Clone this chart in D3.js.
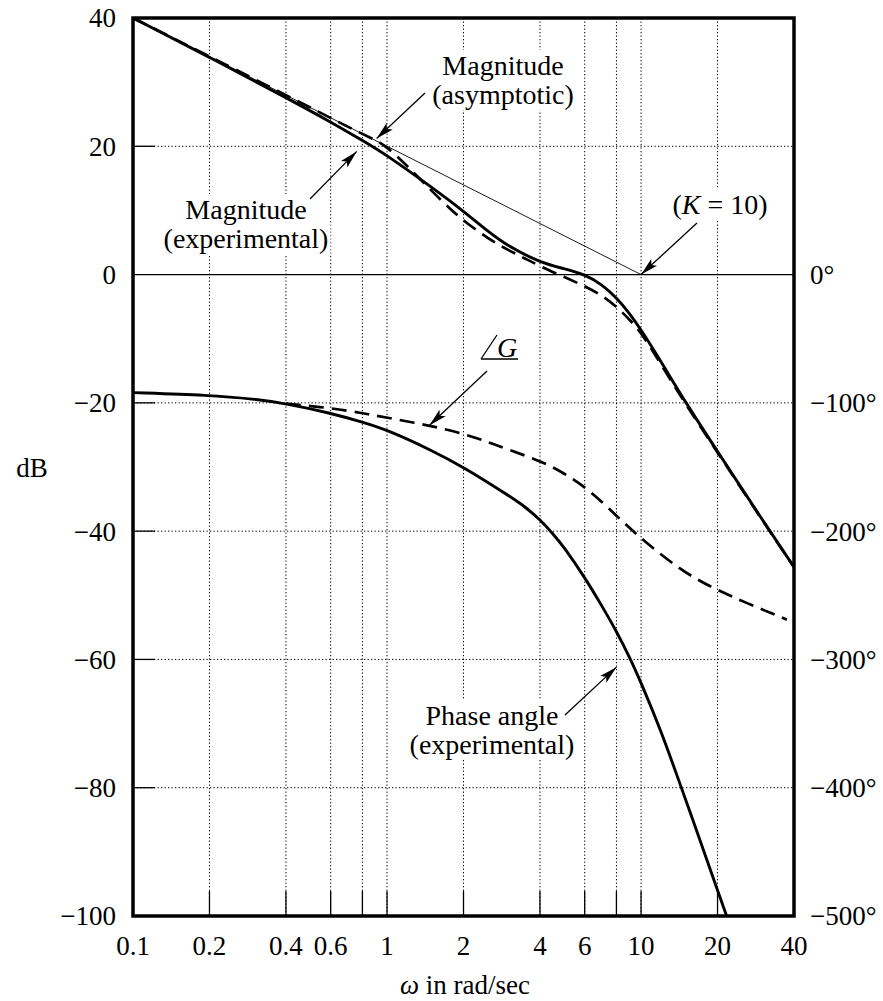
<!DOCTYPE html>
<html lang="en">
  <head>
    <meta charset="utf-8" />
    <title>Bode plot - experimental vs asymptotic</title>
    <script type="text/javascript" src="https://cdn.jsdelivr.net/npm/d3@7"></script>
    <style type="text/css">
      body { margin: 0; background: #fff; }
      text { font-family: "Liberation Serif", "Times New Roman", serif; fill: #000; }
    </style>
  </head>
  <body>
    <script type="text/javascript">
      // values (omega in rad/sec)
      var magExpW = [0.1, 0.2, 0.4, 0.6, 0.8, 1, 1.5, 2, 2.5, 3, 4, 5, 6, 7, 8, 9, 10, 12, 15, 20, 30, 40];
      var magExpDb = [40, 33.9, 27.6, 23.8, 20.9, 18.6, 13.6, 9.9, 6.7, 4.4, 1.9, 0.9, 0, -1.5, -3.6, -6.0, -8.6, -13.6, -20.0, -27.6, -38.2, -45.6];

      var magAsyW = [0.1, 0.2, 0.4, 0.6, 0.8, 0.9, 1, 1.2, 1.5, 1.8, 2, 2.5, 3, 3.5, 4, 5, 6, 7, 8, 9, 10, 12, 15, 20, 30, 40];
      var magAsyDb = [40, 34, 28, 24.4, 21.9, 21, 19.9, 17.0, 13.0, 10.0, 8.4, 5.6, 3.8, 2.5, 1.3, -0.4, -1.8, -3.2, -5.0, -7.0, -9.0, -14, -20.3, -27.7, -38.3, -45.6];

      var phaseExpW = [0.1, 0.2, 0.3, 0.4, 0.6, 0.8, 1, 1.5, 2, 3, 3.5, 4, 4.5, 5, 6, 7, 8, 9, 10, 12, 14, 17, 20, 22];
      var phaseExpDeg = [-92, -94, -97, -100.5, -108, -115, -121, -137, -150, -172, -181, -191, -202, -213, -236, -258, -278, -298, -318, -356, -393, -440, -480, -503];

      var phaseGW = [0.4, 0.6, 0.8, 1, 1.5, 2, 2.5, 3, 4, 5, 6, 7, 8, 9, 10, 13, 16, 20, 26, 37.5];
      var phaseGDeg = [-100.5, -104, -108, -111.5, -118, -124, -130.5, -136.5, -145, -155, -165.5, -177, -188, -197.5, -205.5, -224, -236, -246, -256, -269];

      // asymptote for K = 10: -20 dB/dec through 0 dB at omega = 10
      var asymW = [0.1, 10];
      var asymDb = [40, 0];

      var xTicks = [0.1, 0.2, 0.4, 0.6, 1, 2, 4, 6, 10, 20, 40];
      var xGrid = [0.2, 0.4, 0.6, 0.8, 1, 2, 4, 6, 8, 10, 20];
      var dbTicks = [40, 20, 0, -20, -40, -60, -80, -100];
      var dbGrid = [20, -20, -40, -60, -80];
      var degTicks = [0, -100, -200, -300, -400, -500];

      var w = 883;
      var h = 1001;
      var pLeft = 133, pRight = 794, pTop = 18, pBottom = 916;

      var xScale = d3.scaleLog().domain([0.1, 40]).range([pLeft, pRight]);
      var yScale = d3.scaleLinear().domain([-100, 40]).range([pBottom, pTop]);
      var phScale = d3.scaleLinear().domain([-500, 200]).range([pBottom, pTop]);

      function minus(v) {
        return v < 0 ? "\u2212" + Math.abs(v) : "" + v;
      }
      function pairs(a, b) {
        return a.map(function (d, i) {
          return [d, b[i]];
        });
      }

      var svg = d3
        .select("body")
        .append("svg")
        .attr("width", w)
        .attr("height", h);

      svg.append("rect").attr("width", w).attr("height", h).attr("fill", "#fff");

      var defs = svg.append("defs");
      defs
        .append("clipPath")
        .attr("id", "plot")
        .append("rect")
        .attr("x", pLeft)
        .attr("y", pTop)
        .attr("width", pRight - pLeft)
        .attr("height", pBottom - pTop);
      defs
        .append("marker")
        .attr("id", "arrow")
        .attr("markerUnits", "userSpaceOnUse")
        .attr("markerWidth", 19)
        .attr("markerHeight", 10)
        .attr("refX", 18)
        .attr("refY", 5)
        .attr("orient", "auto")
        .append("path")
        .attr("d", "M0,0.5 L18,5 L0,9.5 L4,5 Z")
        .attr("fill", "#000");

      // dotted grid
      var grid = svg.append("g").attr("stroke", "#000").attr("stroke-width", 1).attr("stroke-dasharray", "1.3,2.2");
      grid
        .selectAll("line.v")
        .data(xGrid)
        .enter()
        .append("line")
        .attr("class", "v")
        .attr("x1", function (d) { return xScale(d); })
        .attr("x2", function (d) { return xScale(d); })
        .attr("y1", pTop)
        .attr("y2", pBottom);
      grid
        .selectAll("line.h")
        .data(dbGrid)
        .enter()
        .append("line")
        .attr("class", "h")
        .attr("x1", pLeft)
        .attr("x2", pRight)
        .attr("y1", function (d) { return yScale(d); })
        .attr("y2", function (d) { return yScale(d); });

      // short solid ticks inside the frame
      svg
        .append("g")
        .selectAll("line")
        .data(xGrid)
        .enter()
        .append("line")
        .attr("x1", function (d) { return xScale(d); })
        .attr("x2", function (d) { return xScale(d); })
        .attr("y1", pBottom)
        .attr("y2", pBottom - 25)
        .attr("stroke", "#000")
        .attr("stroke-width", 1.3);
      svg
        .append("g")
        .selectAll("line")
        .data(dbGrid)
        .enter()
        .append("line")
        .attr("x1", pLeft)
        .attr("x2", pLeft + 22)
        .attr("y1", function (d) { return yScale(d); })
        .attr("y2", function (d) { return yScale(d); })
        .attr("stroke", "#000")
        .attr("stroke-width", 1.3);

      // annotation labels with white boxes that break the grid
      function label(lines, cx, baselines) {
        var g = svg.append("g");
        var bg = g.append("g");
        lines.forEach(function (parts, i) {
          var t = g
            .append("text")
            .attr("x", cx)
            .attr("y", baselines[i])
            .attr("text-anchor", "middle")
            .attr("font-size", 28);
          parts.forEach(function (p) {
            t.append("tspan").attr("font-style", p[1] ? "italic" : null).text(p[0]);
          });
          var b = t.node().getBBox();
          bg.append("rect")
            .attr("x", b.x - 2)
            .attr("y", b.y)
            .attr("width", b.width + 4)
            .attr("height", b.height)
            .attr("fill", "#fff");
        });
      }

      label([[["Magnitude"]], [["(asymptotic)"]]], 503, [75, 104]);
      label([[["Magnitude"]], [["(experimental)"]]], 246, [219, 248]);
      label([[["("], ["K", true], [" = 10)"]]], 720, [214]);
      label([[["Phase angle"]], [["(experimental)"]]], 492, [725, 754]);
      label([[["G", true]]], 507, [357]);

      // angle sign for the G label
      svg
        .append("path")
        .attr("d", "M481,359 L497,335 M481,359 L518,359")
        .attr("fill", "none")
        .attr("stroke", "#000")
        .attr("stroke-width", 1.3);

      // zero dB line and K = 10 asymptote
      svg
        .append("line")
        .attr("x1", pLeft)
        .attr("x2", pRight)
        .attr("y1", yScale(0))
        .attr("y2", yScale(0))
        .attr("stroke", "#000")
        .attr("stroke-width", 1.3);
      svg
        .append("line")
        .attr("x1", xScale(asymW[0]))
        .attr("y1", yScale(asymDb[0]))
        .attr("x2", xScale(asymW[1]))
        .attr("y2", yScale(asymDb[1]))
        .attr("stroke", "#000")
        .attr("stroke-width", 0.9);

      var magLine = d3
        .line()
        .x(function (d) { return xScale(d[0]); })
        .y(function (d) { return yScale(d[1]); })
        .curve(d3.curveBasis);
      var phLine = d3
        .line()
        .x(function (d) { return xScale(d[0]); })
        .y(function (d) { return phScale(d[1]); })
        .curve(d3.curveBasis);

      var curves = svg.append("g").attr("clip-path", "url(#plot)").attr("fill", "none").attr("stroke", "#000");
      curves
        .append("path")
        .attr("d", magLine(pairs(magAsyW, magAsyDb)))
        .attr("stroke-width", 2.7)
        .attr("stroke-dasharray", "15,8");
      curves
        .append("path")
        .attr("d", phLine(pairs(phaseGW, phaseGDeg)))
        .attr("stroke-width", 2.7)
        .attr("stroke-dasharray", "15,8");
      curves
        .append("path")
        .attr("d", magLine(pairs(magExpW, magExpDb)))
        .attr("stroke-width", 2.9);
      curves
        .append("path")
        .attr("d", phLine(pairs(phaseExpW, phaseExpDeg)))
        .attr("stroke-width", 2.9);

      // arrows from labels to curves
      var arrows = [
        [425, 93, xScale(0.91), yScale(21.2)],
        [310, 199, xScale(0.76), yScale(19.2)],
        [697, 223, xScale(10), yScale(0)],
        [487, 371, xScale(1.47), phScale(-117.5)],
        [565, 715, xScale(8), phScale(-306)]
      ];
      svg
        .append("g")
        .selectAll("line")
        .data(arrows)
        .enter()
        .append("line")
        .attr("x1", function (d) { return d[0]; })
        .attr("y1", function (d) { return d[1]; })
        .attr("x2", function (d) { return d[2]; })
        .attr("y2", function (d) { return d[3]; })
        .attr("stroke", "#000")
        .attr("stroke-width", 1.3)
        .attr("marker-end", "url(#arrow)");

      // frame
      svg
        .append("rect")
        .attr("x", pLeft)
        .attr("y", pTop)
        .attr("width", pRight - pLeft)
        .attr("height", pBottom - pTop)
        .attr("fill", "none")
        .attr("stroke", "#000")
        .attr("stroke-width", 3.5);

      // tick labels
      svg
        .append("g")
        .selectAll("text")
        .data(xTicks)
        .enter()
        .append("text")
        .attr("x", function (d) { return xScale(d); })
        .attr("y", 955)
        .attr("text-anchor", "middle")
        .attr("font-size", 27)
        .text(function (d) { return d; });
      svg
        .append("g")
        .selectAll("text")
        .data(dbTicks)
        .enter()
        .append("text")
        .attr("x", 116)
        .attr("y", function (d) { return yScale(d); })
        .attr("dy", "0.35em")
        .attr("text-anchor", "end")
        .attr("font-size", 27)
        .text(function (d) { return minus(d); });
      svg
        .append("g")
        .selectAll("text")
        .data(degTicks)
        .enter()
        .append("text")
        .attr("x", 810)
        .attr("y", function (d) { return phScale(d); })
        .attr("dy", "0.35em")
        .attr("font-size", 27)
        .text(function (d) { return minus(d) + "\u00b0"; });

      // axis titles
      svg
        .append("text")
        .attr("x", 32)
        .attr("y", 468)
        .attr("dy", "0.35em")
        .attr("text-anchor", "middle")
        .attr("font-size", 27)
        .text("dB");
      var xt = svg
        .append("text")
        .attr("x", 465)
        .attr("y", 994)
        .attr("text-anchor", "middle")
        .attr("font-size", 27);
      xt.append("tspan").attr("font-style", "italic").text("\u03c9");
      xt.append("tspan").text(" in rad/sec");
    </script>
  </body>
</html>
